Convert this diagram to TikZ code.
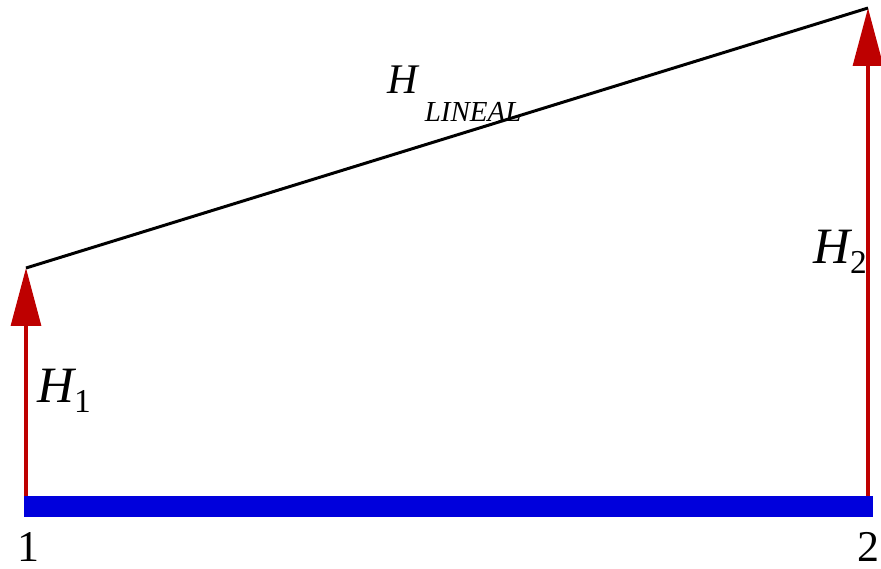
\documentclass[tikz,border=0pt]{standalone}
\usepackage{fontspec}
\setmainfont{Liberation Serif}
\usetikzlibrary{arrows.meta}
\definecolor{arrowred}{RGB}{190,0,0}
\definecolor{barblue}{RGB}{0,0,220}
\newcommand{\hlabel}[2]{\fontsize{29}{29}\selectfont\itshape H\raisebox{-6pt}{\fontsize{19}{19}\selectfont\upshape #2}}
\begin{document}
\begin{tikzpicture}[x=0.02cm,y=-0.02cm]
\useasboundingbox (0,0) rectangle (881,568);
\tikzset{
  height/.style={draw=arrowred,line width=1.8pt,-{Triangle[length=1.16cm,width=0.6cm]}},
  lbl/.style={inner sep=0pt,anchor=base west}
}
% points of the section
\coordinate (p1) at (26,506);
\coordinate (p2) at (868,506);
\coordinate (t1) at (26,268);
\coordinate (t2) at (868,8);

\draw [height] (p1) -- (t1);
\draw [height] (p2) -- (t2);
\draw [line width=1.7pt] (t1) -- (t2);
\draw [barblue,line width=0.42cm] (24,506) -- (873,506);

\node [inner sep=0pt,anchor=base] (n1) at (28,561) {\fontsize{25}{25}\selectfont 1};
\node [inner sep=0pt,anchor=base] (n2) at (868,561) {\fontsize{25}{25}\selectfont 2};
\node [lbl] (h1) at (37,402) {\hlabel{H}{1}};
\node [lbl] (h2) at (813,263) {\hlabel{H}{2}};
\node [lbl] (hl) at (387,93) {\fontsize{24}{24}\selectfont\itshape H\kern4pt\raisebox{-16pt}{\fontsize{16.5}{16.5}\selectfont LINEAL}};
\end{tikzpicture}
\end{document}
